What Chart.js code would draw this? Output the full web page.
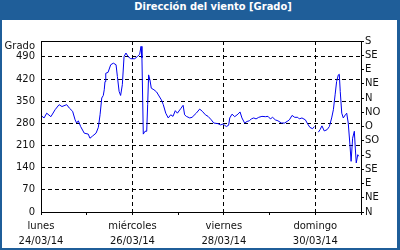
<!DOCTYPE html>
<html>
<head>
<meta charset="utf-8">
<script src="https://cdn.jsdelivr.net/npm/chart.js@4/dist/chart.umd.min.js"></script>
<style>
    html, body { margin: 0; padding: 0; background: #fff; }
    #box { position: relative; width: 400px; height: 250px; background: #1f5e99; overflow: hidden; }
    #title {
        position: absolute; left: 26px; top: 0; width: 374px; height: 20px; line-height: 20px;
        text-align: center; color: #fff; font: bold 11px "DejaVu Sans Condensed", "DejaVu Sans", sans-serif;
    }
    #panel { position: absolute; left: 2px; top: 20px; width: 395px; height: 228px; background: #fff; }
</style>
</head>
<body>
<div id="box">
    <div id="title">Dirección del viento [Grado]</div>
    <div id="panel"><canvas id="windChart" width="395" height="228"></canvas></div>
</div>
<script>
// hours since lunes 24/03/14 00:00
const hours = [
    0, 1.6, 3, 5.2, 7.4, 9.5, 11, 13.5, 14.9, 16.6, 17.9, 18.7, 19.6, 20.8, 22.7,
    24.8, 25.7, 27.1, 28.9, 30.1, 31, 31.9, 32.7, 33.2, 33.6, 34, 35.2, 36.6, 38, 39.4,
    40.1, 41, 41.8, 42.7, 43.6, 44.6, 45.7, 47.1, 49.2, 50.6, 51.8, 52.5, 53, 53.4, 53.7,
    54.6, 55.5, 56, 56.5, 57.2, 57.9, 59.3, 60.7, 63.2, 64.2, 65.5, 66.8, 68.1, 69.3, 70.5,
    71.6, 73.3, 74.6, 75.4, 76.3, 78.1, 79.3, 81.5, 83.3, 84.7, 86.3, 87.7, 89.4, 90.7, 92.9,
    94.3, 95.6, 96.4, 97.3, 98.5, 99.1, 100.3, 101.7, 103.4, 104.5, 105.5, 106.9, 108.2, 109.4, 110.4,
    111.7, 112.9, 114.3, 116, 117.8, 119.2, 120.4, 121.6, 123, 124.4, 126.2, 127.9, 129.2, 130.4, 131.8,
    133.2, 134.8, 135.6, 137, 138.8, 140, 141.2, 142.6, 143.5, 144.5, 145.6, 146.5, 147.5, 148.7, 150.2,
    151.4, 152.6, 153.5, 154.4, 155.2, 156.1, 156.6, 157.1, 157.9, 158.7, 159.8, 160.5, 161.3, 162.2, 162.8,
    163.6, 164.5, 165, 165.5, 166.3, 166.8
];
const direction = [
    305, 297, 312, 301, 323, 339, 333, 339, 328, 318, 291, 281, 288, 270, 249,
    246, 233, 240, 249, 267, 307, 360, 368, 386, 412, 438, 441, 465, 470, 465,
    428, 381, 368, 402, 491, 502, 491, 484, 484, 491, 498, 523, 486, 349, 246,
    255, 255, 339, 433, 417, 391, 386, 379, 354, 339, 312, 297, 307, 302, 320,
    312, 326, 337, 307, 302, 297, 299, 312, 325, 318, 307, 302, 291, 281, 279,
    275, 278, 274, 270, 274, 297, 309, 301, 309, 316, 297, 281, 286, 288, 294,
    297, 294, 299, 302, 301, 302, 294, 299, 291, 288, 281, 281, 286, 291, 305,
    299, 299, 294, 297, 291, 278, 267, 263, 270, null, 252, 260, 272, 256, 260,
    270, 297, 323, 370, 412, 433, 435, 381, 312, 297, 307, 312, 281, 212, 160,
    233, 255, 202, 155, 181, 176
];

const dayNames = ['lunes', 'miércoles', 'viernes', 'domingo'];
const dayDates = ['24/03/14', '26/03/14', '28/03/14', '30/03/14'];
const compass = ['N', 'NE', 'E', 'SE', 'S', 'SO', 'O', 'NO', 'N', 'NE', 'E', 'SE', 'S'];

const tickFont = { family: '"DejaVu Sans", sans-serif', size: 10 };
const ink = '#111';

const plotFrame = {
    id: 'plotFrame',
    afterDraw(chart) {
        const { ctx, chartArea: a } = chart;
        ctx.save();
        ctx.strokeStyle = '#000';
        ctx.lineWidth = 1;
        ctx.strokeRect(Math.round(a.left) + 0.5, Math.round(a.top) + 0.5,
            Math.round(a.right - a.left), Math.round(a.bottom - a.top));
        ctx.font = '10px "DejaVu Sans", sans-serif';
        ctx.fillStyle = ink;
        ctx.textAlign = 'right';
        ctx.textBaseline = 'middle';
        ctx.fillText('Grado', a.left - 6, a.top + 5);
        ctx.restore();
    }
};

new Chart(document.getElementById('windChart'), {
    type: 'line',
    data: {
        datasets: [{
            data: hours.map((h, i) => ({ x: h, y: direction[i] })),
            borderColor: '#0000f0',
            borderWidth: 1,
            pointRadius: 0,
            tension: 0,
            spanGaps: false
        }]
    },
    options: {
        responsive: false,
        animation: false,
        layout: { padding: { top: 21, left: 0, right: 0, bottom: 0 } },
        plugins: { legend: { display: false }, tooltip: { enabled: false } },
        scales: {
            x: {
                type: 'linear',
                min: 0,
                max: 168,
                afterFit: s => { s.height = 36; },
                border: { display: false, dash: [4, 3] },
                grid: {
                    color: c => (c.tick && c.tick.value % 48 === 0 && c.tick.value > 0 && c.tick.value < 168) ? '#000' : 'rgba(0,0,0,0)',
                    tickColor: '#000',
                    tickLength: 3,
                    tickBorderDash: []
                },
                ticks: {
                    stepSize: 24,
                    autoSkip: false,
                    maxRotation: 0,
                    padding: 4,
                    color: ink,
                    font: { ...tickFont, lineHeight: 1.5 },
                    callback: v => {
                        const i = v / 48;
                        return Number.isInteger(i) && i < dayNames.length ? [dayNames[i], dayDates[i]] : '';
                    }
                }
            },
            y: {
                position: 'left',
                min: 0,
                max: 540,
                afterFit: s => { s.width = 39; },
                afterBuildTicks: s => { s.ticks = s.ticks.filter(t => t.value <= 490); },
                border: { display: false, dash: [4, 3] },
                grid: {
                    color: c => (c.tick && c.tick.value > 0) ? '#000' : 'rgba(0,0,0,0)',
                    drawTicks: false
                },
                ticks: { stepSize: 70, padding: 6, color: ink, font: tickFont }
            },
            y2: {
                position: 'right',
                min: 0,
                max: 540,
                afterFit: s => { s.width = 36; },
                border: { display: false },
                grid: { drawOnChartArea: false, tickLength: 3, tickColor: '#000' },
                ticks: {
                    stepSize: 45,
                    autoSkip: false,
                    padding: 1,
                    color: ink,
                    font: tickFont,
                    callback: v => compass[Math.round(v / 45)]
                }
            }
        }
    },
    plugins: [plotFrame]
});
</script>
</body>
</html>
